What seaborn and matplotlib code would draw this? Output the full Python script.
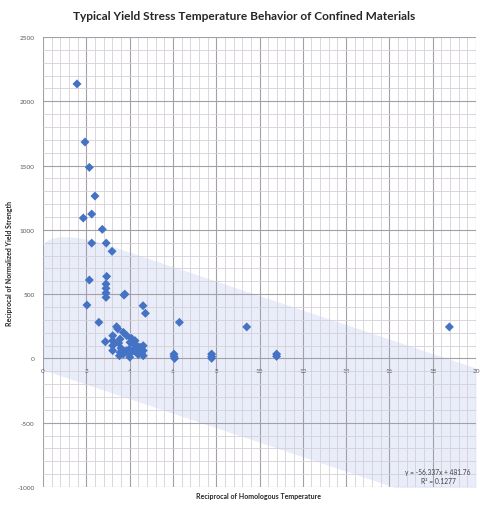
import numpy as np
import pandas as pd
import matplotlib
matplotlib.use("Agg")
import matplotlib.pyplot as plt
from matplotlib.ticker import MultipleLocator
import seaborn as sns

# Reciprocal of homologous temperature (x) and reciprocal of normalized yield strength (y)
recip_homologous_temp = [
    1.57, 1.94, 2.14, 2.40, 1.86, 2.25, 2.74, 2.25, 2.92, 3.19,
    2.14, 2.94, 2.91, 2.91, 2.91, 2.91, 3.74, 3.78, 2.03, 4.62,
    4.73, 2.58, 6.30, 2.88, 3.40, 3.45, 3.71, 3.22, 3.22, 3.22,
    3.22, 3.56, 3.50, 3.87, 4.02, 4.09, 4.25, 4.32, 4.48, 4.63,
    4.63, 4.63, 3.56, 3.53, 3.71, 3.99, 3.99, 4.17, 4.32, 4.40,
    4.01, 3.60, 3.85, 4.20, 4.55, 6.05, 6.05, 6.08, 7.79, 7.79,
    7.79, 9.41, 10.79, 10.79, 18.77,
]
recip_yield_strength = [
    2135, 1683, 1486, 1263, 1092, 1123, 1004, 897, 897, 833,
    610, 638, 579, 545, 509, 475, 493, 500, 415, 410,
    351, 281, 281, 130, 247, 230, 203, 177, 138, 100,
    61, 151, 120, 177, 125, 156, 138, 100, 87, 99,
    61, 21, 47, 21, 34, 34, 72, 60, 47, 30,
    10, 80, 60, 110, 40, 34, 16, 0, 34, 1,
    15, 245, 34, 16, 245,
]

# Linear trendline reported on the chart
trend_slope = -56.337
trend_intercept = 481.76
trend_r2 = 0.1277

x_ticks = [0, 2, 4, 6, 8, 10, 12, 14, 16, 18, 20]
y_ticks = [-1000, -500, 0, 500, 1000, 1500, 2000, 2500]

sns.set_theme(style="white")
plt.rcParams['font.family'] = ['Lato', 'DejaVu Sans']
plt.rcParams['axes.unicode_minus'] = False

W, H = 482, 506
fig = plt.figure(figsize=(W / 100, H / 100), dpi=100)
ax = fig.add_axes([43 / W, 1 - 488 / H, 433 / W, 450 / H])

df = pd.DataFrame({"temp": recip_homologous_temp, "strength": recip_yield_strength})

# Shaded band around the trendline, rounded at its left end
xs = np.linspace(0, 20, 400)
fit = trend_intercept + trend_slope * xs
half_width = 570
rx, ry = 3.0, 190.0
cap = np.where(xs < rx, ry * (1 - np.sqrt(np.clip(1 - ((rx - xs) / rx) ** 2, 0, 1))), 0)
ax.fill_between(xs, fit - half_width, fit + half_width - cap,
                color="#e8edf9", lw=0, zorder=1)

sns.scatterplot(data=df, x="temp", y="strength", marker="D", s=21,
                color="#4472c4", edgecolor="none", linewidth=0, zorder=3, ax=ax)

ax.set_xlim(0, 20)
ax.set_ylim(-1000, 2500)
ax.set_xticks(x_ticks)
ax.set_yticks(y_ticks)
ax.xaxis.set_minor_locator(MultipleLocator(0.4))
ax.yaxis.set_minor_locator(MultipleLocator(100))
ax.grid(which="major", color="#a59fa7", lw=0.8)
ax.grid(which="minor", color="#d6d0d9", lw=0.6)
ax.set_axisbelow("line")

for side in ["top", "right", "left", "bottom"]:
    ax.spines[side].set_visible(False)
ax.spines["bottom"].set_position(("data", 0))

ax.tick_params(which="both", length=0, labelsize=4.6, colors="#595959")
ax.tick_params(axis="x", pad=7)
ax.tick_params(axis="y", pad=6)
ax.set_xlabel("")
ax.set_ylabel("")

fig.text(244 / W, 1 - 17 / H, "Typical Yield Stress Temperature Behavior of Confined Materials",
         ha="center", va="center", fontsize=8.6, fontweight="bold", color="#262626")
fig.text(259 / W, 1 - 497 / H, "Reciprocal of Homologous Temperature",
         ha="center", va="center", fontsize=5.0, fontweight="bold", color="#262626")
fig.text(10 / W, 1 - 263 / H, "Reciprocal of Normalized Yield Strength",
         ha="center", va="center", rotation=90, fontsize=5.0, fontweight="bold", color="#262626")

fig.text(438 / W, 1 - 472 / H, f"y = {trend_slope}x + {trend_intercept}",
         ha="center", va="center", fontsize=4.8, color="#404040")
fig.text(438 / W, 1 - 482 / H, f"R² = {trend_r2}",
         ha="center", va="center", fontsize=4.8, color="#404040")

fig.savefig("out.png", dpi=100, facecolor="white")
